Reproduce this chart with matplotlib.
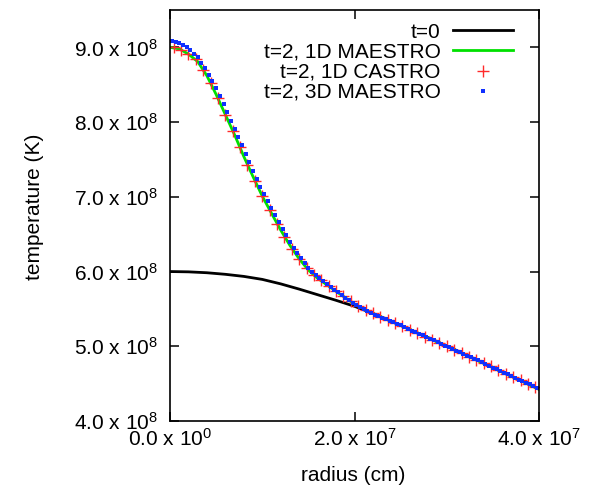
import numpy as np
import matplotlib
matplotlib.use("Agg")
import matplotlib.pyplot as plt

plt.rcParams["font.family"] = ["Liberation Sans", "DejaVu Sans"]
plt.rcParams["mathtext.fontset"] = "custom"
plt.rcParams["mathtext.rm"] = "Liberation Sans"
plt.rcParams["mathtext.it"] = "Liberation Sans:italic"

# radius in 1e7 cm, temperature in 1e8 K
r_init = [0.0, 0.2, 0.4, 0.6, 0.8, 1.0, 1.2, 1.4, 1.6, 1.8, 2.0, 2.2, 2.4,
          2.6, 2.8, 3.0, 3.2, 3.4, 3.6, 3.8, 4.0]
T_init = [6.000, 5.996, 5.984, 5.963, 5.935, 5.895, 5.835, 5.765, 5.690,
          5.615, 5.535, 5.440, 5.335, 5.225, 5.115, 5.005, 4.890, 4.775,
          4.655, 4.545, 4.425]

# t=2, 1D MAESTRO
r_1d_maestro = [0.0, 0.1, 0.2, 0.3, 0.4, 0.5, 0.6, 0.7, 0.8, 0.9, 1.0, 1.1,
                1.2, 1.3, 1.4, 1.5, 1.6, 1.8, 2.0, 2.2, 2.5, 3.0, 3.5, 4.0]
T_1d_maestro = [9.00, 8.98, 8.91, 8.81, 8.62, 8.37, 8.10, 7.83, 7.54, 7.27,
                7.01, 6.78, 6.555, 6.35, 6.17, 6.02, 5.91, 5.735, 5.565,
                5.44, 5.28, 5.00, 4.715, 4.425]

# t=2, 1D CASTRO
r_1d_castro = [0.04, 0.12, 0.20, 0.28, 0.36, 0.44, 0.52, 0.60, 0.68, 0.76,
               0.84, 0.92, 1.00, 1.08, 1.16, 1.24, 1.32, 1.40, 1.48, 1.56,
               1.64, 1.72, 1.80, 1.88, 1.96, 2.04, 2.12, 2.20, 2.28, 2.36,
               2.44, 2.52, 2.60, 2.68, 2.76, 2.84, 2.92, 3.00, 3.08, 3.16,
               3.24, 3.32, 3.40, 3.48, 3.56, 3.64, 3.72, 3.80, 3.88, 3.96]
T_1d_castro = [9.00, 8.97, 8.91, 8.84, 8.70, 8.525, 8.32, 8.10, 7.88, 7.66,
               7.43, 7.21, 7.01, 6.83, 6.64, 6.465, 6.30, 6.17, 6.05, 5.96,
               5.89, 5.81, 5.735, 5.67, 5.60, 5.54, 5.49, 5.44, 5.39, 5.35,
               5.31, 5.27, 5.22, 5.18, 5.13, 5.09, 5.045, 5.00, 4.955, 4.905,
               4.86, 4.82, 4.775, 4.73, 4.68, 4.635, 4.59, 4.545, 4.50, 4.455]

# t=2, 3D MAESTRO
r_3d_maestro = [0.02, 0.06, 0.10, 0.14, 0.18, 0.22, 0.26, 0.30, 0.34, 0.38,
                0.42, 0.46, 0.50, 0.54, 0.58, 0.62, 0.66, 0.70, 0.74, 0.78,
                0.82, 0.86, 0.90, 0.94, 0.98, 1.02, 1.06, 1.10, 1.14, 1.18,
                1.22, 1.26, 1.30, 1.34, 1.38, 1.42, 1.46, 1.50, 1.54, 1.58,
                1.62, 1.66, 1.70, 1.74, 1.78, 1.82, 1.86, 1.90, 1.94, 1.98,
                2.02, 2.06, 2.10, 2.14, 2.18, 2.22, 2.26, 2.30, 2.34, 2.38,
                2.42, 2.46, 2.50, 2.54, 2.58, 2.62, 2.66, 2.70, 2.74, 2.78,
                2.82, 2.86, 2.90, 2.94, 2.98, 3.02, 3.06, 3.10, 3.14, 3.18,
                3.22, 3.26, 3.30, 3.34, 3.38, 3.42, 3.46, 3.50, 3.54, 3.58,
                3.62, 3.66, 3.70, 3.74, 3.78, 3.82, 3.86, 3.90, 3.94, 3.98]
T_3d_maestro = [9.08, 9.075, 9.06, 9.035, 9.00, 8.96, 8.915, 8.865, 8.795, 8.72,
                8.635, 8.55, 8.45, 8.35, 8.24, 8.13, 8.015, 7.91, 7.80, 7.69,
                7.575, 7.46, 7.34, 7.24, 7.13, 7.035, 6.94, 6.85, 6.755, 6.66,
                6.57, 6.485, 6.40, 6.32, 6.245, 6.175, 6.11, 6.05, 5.995, 5.95,
                5.91, 5.87, 5.83, 5.79, 5.755, 5.72, 5.685, 5.65, 5.615, 5.585,
                5.555, 5.525, 5.50, 5.475, 5.45, 5.425, 5.40, 5.38, 5.36, 5.34,
                5.32, 5.30, 5.28, 5.255, 5.23, 5.21, 5.19, 5.165, 5.145, 5.12,
                5.10, 5.08, 5.055, 5.035, 5.01, 4.99, 4.965, 4.94, 4.92, 4.895,
                4.875, 4.85, 4.83, 4.81, 4.785, 4.765, 4.74, 4.715, 4.695, 4.67,
                4.645, 4.625, 4.60, 4.58, 4.555, 4.535, 4.51, 4.49, 4.465, 4.44]

labels = ["t=0", "t=2, 1D MAESTRO", "t=2, 1D CASTRO", "t=2, 3D MAESTRO"]

x_ticks = [0.0, 2.0e7, 4.0e7]
x_ticklabels = [r"0.0 x 10$^{0}$", r"2.0 x 10$^{7}$", r"4.0 x 10$^{7}$"]
y_ticks = [4.0e8, 5.0e8, 6.0e8, 7.0e8, 8.0e8, 9.0e8]
y_ticklabels = [r"4.0 x 10$^{8}$", r"5.0 x 10$^{8}$", r"6.0 x 10$^{8}$",
                r"7.0 x 10$^{8}$", r"8.0 x 10$^{8}$", r"9.0 x 10$^{8}$"]

fig = plt.figure(figsize=(6.01, 4.86), dpi=100)
ax = fig.add_axes([170 / 601, 65 / 486, 369 / 601, 411 / 486])

ax.plot(np.array(r_init) * 1e7, np.array(T_init) * 1e8, color="black",
        lw=2, label=labels[0])
ax.plot(np.array(r_1d_maestro) * 1e7, np.array(T_1d_maestro) * 1e8,
        color="#00e000", lw=2, label=labels[1])
ax.plot(np.array(r_1d_castro) * 1e7, np.array(T_1d_castro) * 1e8, ls="none",
        marker="+", ms=9, mew=1, color="#ff2a2a", label=labels[2])
ax.plot(np.array(r_3d_maestro) * 1e7, np.array(T_3d_maestro) * 1e8, ls="none",
        marker="s", ms=2.6, mew=0, color="#1030ff", label=labels[3])

ax.set_xlim(0, 4.0e7)
ax.set_ylim(4.0e8, 9.5e8)
ax.set_xticks(x_ticks)
ax.set_xticklabels(x_ticklabels)
ax.set_yticks(y_ticks)
ax.set_yticklabels(y_ticklabels)
ax.tick_params(direction="in", length=6.5, width=1.1, labelsize=15,
               top=True, right=True)
ax.tick_params(axis="x", pad=5)
ax.tick_params(axis="y", pad=9)
for sp in ax.spines.values():
    sp.set_linewidth(1.2)

ax.set_xlabel("radius (cm)", fontsize=15)
ax.set_ylabel("temperature (K)", fontsize=15)
ax.xaxis.set_label_coords(0.496, -0.11)
ax.yaxis.set_label_coords(-0.341, 0.52)

ax.legend(loc="upper right", bbox_to_anchor=(0.9295, 0.969), frameon=False,
          fontsize=15, markerfirst=False, handlelength=2.9,
          handletextpad=0.57, labelspacing=0.05, borderpad=0,
          borderaxespad=0, numpoints=1)

fig.savefig("out.png", dpi=100)
